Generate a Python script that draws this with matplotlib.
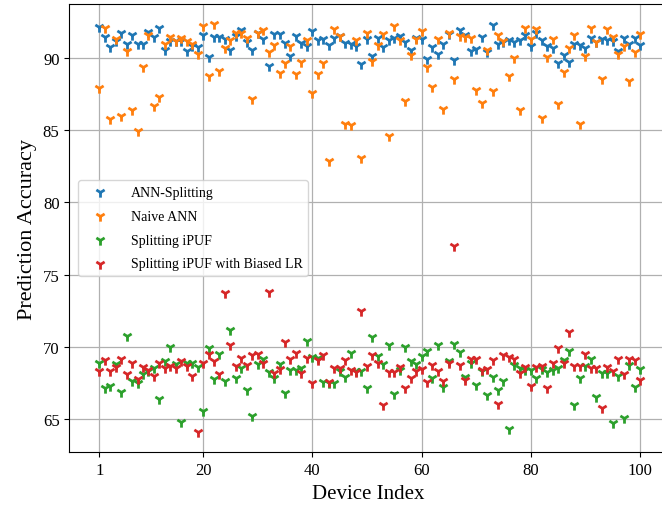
import numpy as np
import matplotlib
matplotlib.use("Agg")
import matplotlib.pyplot as plt

plt.rcParams['font.family'] = ['Liberation Serif', 'DejaVu Serif']

device_index = np.arange(1, 101)

ann_splitting = [
    92.17, 91.47, 90.75, 91.2, 91.75, 91.0, 91.56, 91.0, 91.0, 91.8,
    91.47, 92.1, 90.54, 91.17, 91.2, 91.17, 90.47, 90.8, 90.77, 91.56,
    90.07, 91.47, 91.47, 91.33, 90.54, 91.5, 91.93, 91.1, 90.58, 91.7,
    91.3, 89.46, 91.63, 91.63, 91.05, 90.16, 91.5, 91.05, 90.82, 91.86,
    91.28, 91.33, 90.9, 91.4, 91.5, 91.05, 91.0, 90.82, 89.6, 91.33,
    90.16, 91.4, 90.77, 91.24, 91.4, 91.5, 91.1, 90.58, 91.4, 91.33,
    89.93, 90.77, 90.3, 91.0, 91.63, 89.84, 91.93, 91.56, 90.47, 90.63,
    91.47, 90.4, 92.26, 91.0, 91.1, 91.24, 91.1, 91.24, 91.56, 90.82,
    91.7, 91.28, 90.86, 90.7, 89.65, 90.23, 89.7, 91.0, 90.93, 90.7,
    91.4, 91.1, 91.33, 91.24, 91.2, 90.47, 91.4, 91.0, 91.4, 90.93,
]

naive_ann = [
    87.9, 92.07, 85.8, 91.33, 86.0, 90.47, 86.4, 84.94, 89.35, 91.56,
    86.7, 87.3, 91.0, 91.47, 91.2, 91.4, 91.17, 91.0, 90.3, 92.2,
    88.76, 92.33, 89.07, 90.7, 91.24, 91.7, 91.75, 91.4, 87.13, 91.75,
    91.93, 90.44, 90.93, 88.95, 89.65, 90.82, 88.9, 89.7, 91.24, 87.55,
    88.9, 89.65, 82.9, 92.03, 91.5, 85.4, 85.34, 91.24, 83.1, 91.75,
    89.77, 90.93, 91.63, 84.57, 92.2, 91.24, 87.04, 90.23, 91.3, 91.86,
    89.37, 88.0, 91.33, 86.5, 91.7, 88.53, 91.5, 91.47, 91.4, 87.8,
    86.85, 90.58, 87.74, 91.6, 91.17, 88.77, 90.0, 86.43, 92.1, 91.33,
    92.03, 85.87, 90.07, 91.33, 86.8, 89.0, 90.7, 91.56, 85.45, 90.12,
    92.1, 91.1, 88.53, 92.03, 91.47, 90.3, 90.86, 88.44, 90.4, 91.63,
]

splitting_ipuf = [
    68.9, 67.16, 67.28, 68.79, 66.88, 70.77, 67.63, 67.5, 68.1, 68.3,
    68.5, 66.35, 69.0, 69.95, 68.8, 64.77, 68.9, 68.9, 68.6, 65.53,
    69.9, 67.74, 69.53, 67.63, 71.16, 67.86, 68.56, 66.98, 65.19, 68.79,
    69.14, 68.28, 67.86, 68.79, 66.81, 68.4, 68.37, 68.51, 70.37, 69.3,
    69.2, 67.58, 67.5, 67.5, 68.3, 67.9, 69.6, 68.33, 68.33, 67.16,
    70.7, 69.37, 68.79, 70.14, 66.74, 68.37, 69.95, 69.02, 68.8, 69.37,
    69.72, 67.86, 70.14, 67.2, 69.0, 70.19, 69.67, 67.9, 68.9, 67.35,
    68.33, 66.65, 67.9, 66.98, 67.63, 64.33, 68.74, 68.51, 68.37, 68.37,
    67.81, 68.44, 68.28, 68.37, 68.51, 69.07, 69.72, 65.95, 67.86, 68.67,
    69.14, 66.51, 68.2, 68.2, 64.72, 67.98, 65.07, 68.74, 67.2, 68.44,
]

splitting_ipuf_biased = [
    68.33, 69.07, 68.33, 68.6, 69.14, 68.1, 68.84, 67.74, 68.6, 68.37,
    67.98, 68.9, 68.56, 68.67, 68.5, 68.98, 68.67, 67.98, 64.1, 68.9,
    69.53, 68.98, 68.1, 73.72, 70.14, 68.67, 69.2, 68.74, 69.44, 69.53,
    68.9, 73.79, 68.2, 68.44, 70.3, 69.14, 69.6, 68.2, 69.2, 67.5,
    69.07, 69.44, 67.58, 68.56, 68.51, 69.07, 68.37, 68.28, 72.47, 68.67,
    69.44, 68.9, 65.95, 68.28, 68.28, 68.6, 67.16, 67.86, 68.3, 68.44,
    67.58, 68.74, 68.33, 67.63, 68.9, 77.0, 68.74, 67.67, 69.14, 69.14,
    68.37, 68.44, 69.07, 66.0, 69.44, 69.3, 69.14, 68.2, 68.6, 67.28,
    68.6, 68.67, 67.16, 68.9, 69.9, 68.9, 71.0, 68.67, 68.67, 69.53,
    68.56, 68.51, 65.77, 68.6, 68.33, 69.14, 68.1, 69.14, 69.07, 67.67,
]

series = [
    ("ANN-Splitting", ann_splitting, "tab:blue"),
    ("Naive ANN", naive_ann, "tab:orange"),
    ("Splitting iPUF", splitting_ipuf, "tab:green"),
    ("Splitting iPUF with Biased LR", splitting_ipuf_biased, "tab:red"),
]

fig = plt.figure(figsize=(6.62, 5.1), dpi=100)
# axes runs a little past the right edge of the image, as in the reference
ax = fig.add_axes([69.3 / 662, (510 - 453.3) / 510, 598 / 662, 448.3 / 510])

for label, values, color in series:
    ax.scatter(device_index, values, marker='1', s=55, linewidths=2,
               color=color, label=label, zorder=3)

ax.set_xlim(-4.5, 105)
ax.set_xticks([1, 20, 40, 60, 80, 100])
ax.tick_params(labelsize=12)
ax.set_xlabel("Device Index", fontsize=15)
ax.set_ylabel("Prediction Accuracy", fontsize=16)
ax.grid(True, color='#b0b0b0', linewidth=0.9)
ax.set_axisbelow(True)
ax.legend(loc='center left', fontsize=10, bbox_to_anchor=(0.003, 0.5),
          handlelength=2.4, handletextpad=1.0, labelspacing=0.78)

fig.savefig("out.png", dpi=100)
